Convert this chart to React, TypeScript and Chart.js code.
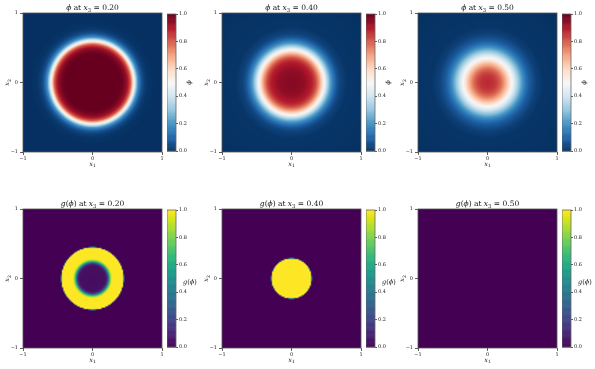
import React, { useEffect, useRef } from 'react';
import { Chart, registerables } from 'chart.js';

Chart.register(...registerables);

// ---- data ----
const X3_LEVELS = ['0.20', '0.40', '0.50'];
const AXIS_TICKS = [-1, 0, 1];
const CB_TICKS = [0, 0.2, 0.4, 0.6, 0.8, 1.0];

// radial profiles in the (x1, x2) plane: radius -> value
const PHI_R_020 = [0, 0.4, 0.45, 0.5, 0.55, 0.6, 0.65, 0.7, 0.75, 0.8, 0.9, 1.5];
const PHI_V_020 = [1, 1, 0.98, 0.93, 0.8, 0.48, 0.2, 0.07, 0.025, 0.008, 0, 0];
const PHI_R_040 = [0, 0.1, 0.2, 0.3, 0.35, 0.4, 0.45, 0.5, 0.55, 0.6, 0.65, 0.7, 0.8, 1.5];
const PHI_V_040 = [0.96, 0.955, 0.94, 0.89, 0.83, 0.72, 0.57, 0.4, 0.25, 0.14, 0.07, 0.035, 0.01, 0];
const PHI_R_050 = [0, 0.1, 0.15, 0.2, 0.25, 0.3, 0.35, 0.4, 0.45, 0.5, 0.55, 0.6, 0.7, 0.8, 1.5];
const PHI_V_050 = [0.88, 0.86, 0.83, 0.78, 0.7, 0.61, 0.5, 0.4, 0.3, 0.21, 0.13, 0.08, 0.03, 0.01, 0];
const G_R_020 = [0, 0.18, 0.21, 0.23, 0.25, 0.27, 0.29, 0.445, 0.455, 1.5];
const G_V_020 = [0.03, 0.04, 0.1, 0.4, 0.7, 0.95, 1, 1, 0, 0];
const G_R_040 = [0, 0.285, 0.295, 1.5];
const G_V_040 = [1, 1, 0, 0];
const G_R_050 = [0, 1.5];
const G_V_050 = [0, 0];

// ---- colormaps ----
const RDBU_R = ['#053061', '#2166ac', '#4393c3', '#92c5de', '#d1e5f0', '#f7f7f7', '#fddbc7', '#f4a582', '#d6604d', '#b2182b', '#67001f'];
const VIRIDIS = ['#440154', '#471365', '#482475', '#463480', '#414487', '#3b528b', '#355f8d', '#2f6c8e', '#2a788e', '#25848e', '#21918c', '#1e9c89', '#22a884', '#2fb47c', '#44bf70', '#5ec962', '#7ad151', '#9bd93c', '#bddf26', '#dfe318', '#fde725'];

const hexRgb = (h: string) => [parseInt(h.slice(1, 3), 16), parseInt(h.slice(3, 5), 16), parseInt(h.slice(5, 7), 16)];
const makeCmap = (stops: string[]) => {
  const rgb = stops.map(hexRgb);
  return (t: number) => {
    const c = Math.max(0, Math.min(1, t)) * (rgb.length - 1);
    const k = Math.min(rgb.length - 2, Math.floor(c));
    const f = c - k;
    return [0, 1, 2].map((q) => Math.round(rgb[k][q] + f * (rgb[k + 1][q] - rgb[k][q])));
  };
};
const CMAP_PHI = makeCmap(RDBU_R);
const CMAP_G = makeCmap(VIRIDIS);

const sample = (rs: number[], vs: number[], r: number) => {
  if (r <= rs[0]) return vs[0];
  for (let k = 1; k < rs.length; k++) {
    if (r <= rs[k]) {
      const f = (r - rs[k - 1]) / (rs[k] - rs[k - 1]);
      return vs[k - 1] + f * (vs[k] - vs[k - 1]);
    }
  }
  return vs[vs.length - 1];
};

type Seg = { t: string; it?: boolean; sub?: boolean };
const FONT = '"DejaVu Serif", serif';

function drawRich(ctx: CanvasRenderingContext2D, segs: Seg[], cx: number, cy: number, size: number, angle = 0, align: 'center' | 'left' = 'center') {
  ctx.save();
  ctx.translate(cx, cy);
  if (angle) ctx.rotate(angle);
  const fontOf = (s: Seg) => `${s.it ? 'italic ' : ''}${s.sub ? size * 0.7 : size}px ${FONT}`;
  let w = 0;
  const widths = segs.map((s) => {
    ctx.font = fontOf(s);
    const m = ctx.measureText(s.t).width;
    w += m;
    return m;
  });
  let x = align === 'center' ? -w / 2 : 0;
  ctx.fillStyle = '#111';
  ctx.textBaseline = 'alphabetic';
  ctx.textAlign = 'left';
  segs.forEach((s, i) => {
    ctx.font = fontOf(s);
    ctx.fillText(s.t, x, size * 0.35 + (s.sub ? size * 0.25 : 0));
    x += widths[i];
  });
  ctx.restore();
}

const fmtAxis = (v: number) => (v < 0 ? '\u2212' + Math.abs(v) : String(v));
const N = 100;

type PanelProps = { left: number; top: number; rs: number[]; vs: number[]; cmap: (t: number) => number[]; title: Seg[] };

function HeatPanel({ left, top, rs, vs, cmap, title }: PanelProps) {
  const ref = useRef<HTMLCanvasElement>(null);
  useEffect(() => {
    const heat = {
      id: 'heat',
      beforeDraw(chart: any) {
        const { ctx, scales } = chart;
        const x = scales.x, y = scales.y;
        const off = document.createElement('canvas');
        off.width = N; off.height = N;
        const octx = off.getContext('2d')!;
        const img = octx.createImageData(N, N);
        for (let j = 0; j < N; j++) {
          const yv = 1 - ((j + 0.5) * 2) / N;
          for (let i = 0; i < N; i++) {
            const xv = -1 + ((i + 0.5) * 2) / N;
            const c = cmap(sample(rs, vs, Math.hypot(xv, yv)));
            const p = (j * N + i) * 4;
            img.data[p] = c[0]; img.data[p + 1] = c[1]; img.data[p + 2] = c[2]; img.data[p + 3] = 255;
          }
        }
        octx.putImageData(img, 0, 0);
        const px0 = x.getPixelForValue(-1), px1 = x.getPixelForValue(1);
        const py0 = y.getPixelForValue(1), py1 = y.getPixelForValue(-1);
        ctx.save();
        ctx.imageSmoothingEnabled = true;
        ctx.imageSmoothingQuality = 'high';
        ctx.drawImage(off, px0, py0, px1 - px0, py1 - py0);
        ctx.restore();
      },
      afterDraw(chart: any) {
        const { ctx, chartArea: a } = chart;
        ctx.save();
        ctx.strokeStyle = '#555';
        ctx.lineWidth = 0.8;
        ctx.strokeRect(a.left, a.top, a.right - a.left, a.bottom - a.top);
        ctx.restore();
        drawRich(ctx, title, (a.left + a.right) / 2, a.top - 6, 7.5);
        drawRich(ctx, [{ t: 'x', it: true }, { t: '1', sub: true }], (a.left + a.right) / 2, a.bottom + 11.5, 6.5);
        drawRich(ctx, [{ t: 'x', it: true }, { t: '2', sub: true }], a.left - 16, (a.top + a.bottom) / 2, 6.5, -Math.PI / 2);
      },
    };
    const axis = (isX: boolean) => ({
      type: 'linear',
      min: -1,
      max: 1,
      afterBuildTicks: (s: any) => { s.ticks = AXIS_TICKS.map((v) => ({ value: v })); },
      afterFit: (s: any) => { if (isX) s.height = 20; else s.width = 23; },
      border: { display: false },
      grid: { drawOnChartArea: false, drawTicks: true, tickLength: 3, color: '#333', lineWidth: 0.8 },
      ticks: { font: { family: FONT, size: 5 }, color: '#222', padding: isX ? 1 : 2, maxRotation: 0, autoSkip: false, callback: (v: any) => fmtAxis(Number(v)) },
    });
    const chart = new Chart(ref.current!, {
      type: 'scatter',
      data: { datasets: [{ data: [] }] },
      options: {
        animation: false,
        responsive: false,
        events: [],
        layout: { padding: { top: 13, right: 4, left: 0, bottom: 0 } },
        plugins: { legend: { display: false }, tooltip: { enabled: false }, title: { display: false } },
        scales: { x: axis(true) as any, y: axis(false) as any },
      },
      plugins: [heat],
    });
    return () => chart.destroy();
  }, []);
  return <canvas ref={ref} width={166} height={172} style={{ position: 'absolute', left: left - 23, top: top - 13, width: 166, height: 172 }} />;
}

type CbProps = { left: number; top: number; cmap: (t: number) => number[]; label: Seg[]; rotate: boolean };

function ColorBar({ left, top, cmap, label, rotate }: CbProps) {
  const ref = useRef<HTMLCanvasElement>(null);
  useEffect(() => {
    const grad = {
      id: 'grad',
      beforeDraw(chart: any) {
        const { ctx, chartArea: a, scales } = chart;
        const y = scales.y;
        const steps = 256;
        for (let k = 0; k < steps; k++) {
          const v0 = k / steps, v1 = (k + 1) / steps;
          const c = cmap((v0 + v1) / 2);
          ctx.fillStyle = `rgb(${c[0]},${c[1]},${c[2]})`;
          const p0 = y.getPixelForValue(v0), p1 = y.getPixelForValue(v1);
          ctx.fillRect(a.left, p1, a.right - a.left, p0 - p1 + 0.5);
        }
      },
      afterDraw(chart: any) {
        const { ctx, chartArea: a } = chart;
        ctx.save();
        ctx.strokeStyle = '#666';
        ctx.lineWidth = 0.8;
        ctx.strokeRect(a.left, a.top, a.right - a.left, a.bottom - a.top);
        ctx.restore();
        const cy = (a.top + a.bottom) / 2;
        if (rotate) drawRich(ctx, label, a.right + 13, cy, 6.5, -Math.PI / 2);
        else drawRich(ctx, label, a.right + 7, cy + 3, 6.5, 0, 'left');
      },
    };
    const chart = new Chart(ref.current!, {
      type: 'scatter',
      data: { datasets: [{ data: [] }] },
      options: {
        animation: false,
        responsive: false,
        events: [],
        layout: { padding: { top: 3, bottom: 3, left: 0, right: 0 } },
        plugins: { legend: { display: false }, tooltip: { enabled: false } },
        scales: {
          x: { display: false, min: 0, max: 1 },
          y: {
            type: 'linear',
            position: 'right',
            min: 0,
            max: 1,
            afterBuildTicks: (s: any) => { s.ticks = CB_TICKS.map((v) => ({ value: v })); },
            afterFit: (s: any) => { s.width = 24; },
            border: { display: false },
            grid: { drawOnChartArea: false, drawTicks: true, tickLength: 2, color: '#333', lineWidth: 0.8 },
            ticks: { font: { family: FONT, size: 5 }, color: '#222', padding: 1, autoSkip: false, callback: (v: any) => Number(v).toFixed(1) },
          } as any,
        },
      },
      plugins: [grad],
    });
    return () => chart.destroy();
  }, []);
  return <canvas ref={ref} width={33} height={145} style={{ position: 'absolute', left, top: top - 3, width: 33, height: 145 }} />;
}

const COL_LEFT = [23, 222, 418];
const ROW_TOP = [13, 209];

export default function App() {
  const phiProfiles = [
    [PHI_R_020, PHI_V_020],
    [PHI_R_040, PHI_V_040],
    [PHI_R_050, PHI_V_050],
  ];
  const gProfiles = [
    [G_R_020, G_V_020],
    [G_R_040, G_V_040],
    [G_R_050, G_V_050],
  ];
  const phiSeg: Seg = { t: '\u03d5', it: true };
  return (
    <div style={{ position: 'fixed', left: 0, top: 0, width: 595, height: 369, background: '#fff', overflow: 'hidden' }}>
      {X3_LEVELS.map((lvl, c) => (
        <React.Fragment key={'p' + c}>
          <HeatPanel left={COL_LEFT[c]} top={ROW_TOP[0]} rs={phiProfiles[c][0]} vs={phiProfiles[c][1]} cmap={CMAP_PHI}
            title={[phiSeg, { t: ' at ' }, { t: 'x', it: true }, { t: '3', sub: true }, { t: ' = ' + lvl }]} />
          <ColorBar left={COL_LEFT[c] + 144} top={ROW_TOP[0]} cmap={CMAP_PHI} label={[phiSeg]} rotate={true} />
          <HeatPanel left={COL_LEFT[c]} top={ROW_TOP[1]} rs={gProfiles[c][0]} vs={gProfiles[c][1]} cmap={CMAP_G}
            title={[{ t: 'g', it: true }, { t: '(' }, phiSeg, { t: ')' }, { t: ' at ' }, { t: 'x', it: true }, { t: '3', sub: true }, { t: ' = ' + lvl }]} />
          <ColorBar left={COL_LEFT[c] + 144} top={ROW_TOP[1]} cmap={CMAP_G} label={[{ t: 'g', it: true }, { t: '(' }, phiSeg, { t: ')' }]} rotate={false} />
        </React.Fragment>
      ))}
    </div>
  );
}
